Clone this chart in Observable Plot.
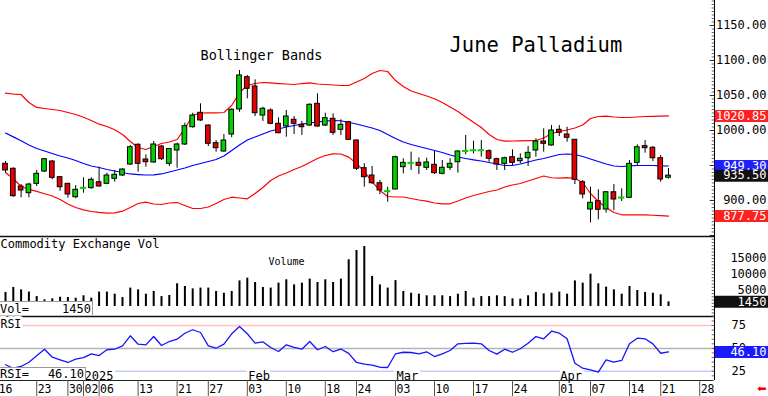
<!DOCTYPE html>
<html><head><meta charset="utf-8">
<script src="https://cdn.jsdelivr.net/npm/d3@7"></script>
<script src="https://cdn.jsdelivr.net/npm/@observablehq/plot@0.6"></script>
<style>
html,body{margin:0;padding:0;background:#fff;}
#chart{position:relative;width:768px;height:396px;overflow:hidden;font-family:"DejaVu Sans Mono",monospace;}
#chart svg{position:absolute;left:0;}
.box{position:absolute;left:0;background:#fff;border-top:1px solid #999;border-right:1px solid #999;font-size:12px;line-height:12px;color:#000;box-sizing:border-box;z-index:5;}
.box span{position:absolute;white-space:pre;}
</style></head><body>
<div id="chart"></div>
<script>
// ---- data ----
const dates = ("2024-12-17 2024-12-18 2024-12-19 2024-12-20 2024-12-23 2024-12-24 2024-12-26 2024-12-27 2024-12-30 2024-12-31 " +
 "2025-01-02 2025-01-03 2025-01-06 2025-01-07 2025-01-08 2025-01-09 2025-01-10 2025-01-13 2025-01-14 2025-01-15 2025-01-16 2025-01-17 " +
 "2025-01-21 2025-01-22 2025-01-23 2025-01-24 2025-01-27 2025-01-28 2025-01-29 2025-01-30 2025-01-31 " +
 "2025-02-03 2025-02-04 2025-02-05 2025-02-06 2025-02-07 2025-02-10 2025-02-11 2025-02-12 2025-02-13 2025-02-14 " +
 "2025-02-18 2025-02-19 2025-02-20 2025-02-21 2025-02-24 2025-02-25 2025-02-26 2025-02-27 2025-02-28 " +
 "2025-03-03 2025-03-04 2025-03-05 2025-03-06 2025-03-07 2025-03-10 2025-03-11 2025-03-12 2025-03-13 2025-03-14 " +
 "2025-03-17 2025-03-18 2025-03-19 2025-03-20 2025-03-21 2025-03-24 2025-03-25 2025-03-26 2025-03-27 2025-03-28 2025-03-31 " +
 "2025-04-01 2025-04-02 2025-04-03 2025-04-04 2025-04-07 2025-04-08 2025-04-09 2025-04-10 2025-04-11 " +
 "2025-04-14 2025-04-15 2025-04-16 2025-04-17 2025-04-21 2025-04-22").split(" ");

const open = [952.4, 945.3, 920.0, 910.4, 923.8, 941.4, 955.7, 933.3, 923.8, 904.7,
917.0, 917.6, 926.1, 923.8, 931.0, 935.7, 951.4, 979.6, 958.6, 954.3,
977.1, 952.4, 971.4, 980.0, 1004.7, 1025.3, 1007.1, 981.9, 970.0, 994.3,
1030.0, 1076.1, 1062.9, 1021.4, 1028.6, 1009.6, 1005.7, 1015.3, 1008.1, 1007.1,
1038.1, 1007.1, 1016.7, 1001.0, 1011.9, 985.7, 946.1, 935.7, 924.7, 912.3,
915.7, 947.6, 952.7, 953.8, 946.7, 951.0, 938.1, 946.7, 954.7, 969.8,
970.8, 970.8, 970.4, 959.0, 952.4, 961.9, 956.1, 960.4, 971.4, 984.3,
978.6, 1001.0, 994.3, 986.7, 926.1, 887.1, 899.0, 887.1, 911.8, 903.2,
903.8, 953.8, 977.6, 975.3, 960.4, 932.5];
const high = [955.7, 946.7, 922.8, 924.7, 942.9, 960.0, 957.1, 934.3, 924.7, 921.4,
932.4, 932.4, 947.6, 939.0, 942.9, 945.3, 978.6, 981.0, 965.3, 984.3,
978.6, 974.3, 981.9, 1010.4, 1024.7, 1038.1, 1008.1, 985.7, 994.3, 1031.0,
1085.7, 1078.6, 1072.4, 1033.3, 1031.0, 1018.1, 1028.6, 1020.0, 1012.9, 1038.1,
1052.4, 1024.7, 1023.8, 1015.3, 1012.9, 986.7, 952.4, 948.6, 928.6, 919.0,
963.3, 959.6, 969.0, 961.0, 960.4, 970.0, 957.1, 959.6, 971.4, 992.9,
984.7, 985.7, 972.4, 960.4, 961.9, 972.4, 966.7, 977.1, 988.1, 1002.4,
1007.1, 1007.1, 1004.7, 987.1, 928.6, 919.0, 915.3, 912.9, 922.8, 916.7,
957.1, 979.6, 985.7, 977.1, 964.3, 945.7];
const low = [939.0, 904.7, 903.8, 903.8, 920.0, 940.0, 929.6, 913.3, 903.3, 902.4,
910.4, 916.1, 919.0, 922.8, 926.1, 934.3, 950.0, 940.4, 947.6, 953.3,
957.1, 948.6, 946.1, 978.6, 1003.3, 1012.9, 977.1, 969.0, 969.0, 989.6,
1026.1, 1045.3, 1020.0, 1012.9, 1008.1, 995.3, 990.4, 994.3, 992.9, 1006.1,
1004.7, 1005.7, 992.9, 992.9, 985.7, 942.9, 919.0, 922.8, 908.6, 897.6,
915.3, 938.1, 942.9, 937.1, 942.9, 937.1, 936.7, 942.9, 939.0, 965.3,
966.7, 961.9, 954.7, 942.9, 942.9, 950.0, 952.4, 948.6, 961.9, 969.0,
977.6, 991.4, 983.3, 922.8, 902.4, 868.1, 872.4, 881.9, 885.7, 898.6,
903.0, 948.6, 967.6, 955.7, 926.1, 930.5];
const close = [942.9, 906.1, 914.3, 922.8, 938.1, 959.0, 932.4, 919.0, 908.6, 915.3,
917.6, 929.6, 920.0, 935.7, 936.7, 944.3, 976.1, 952.4, 954.7, 980.0,
959.0, 973.6, 980.0, 1006.1, 1021.4, 1014.3, 981.0, 974.7, 985.7, 1029.6,
1078.6, 1059.6, 1024.7, 1031.0, 1009.6, 996.1, 1020.0, 1009.6, 1004.7, 1036.7,
1005.7, 1017.6, 996.7, 1008.1, 986.7, 945.3, 933.3, 924.7, 914.3, 912.9,
961.9, 953.8, 953.3, 949.5, 954.3, 939.0, 946.7, 952.4, 970.0, 970.4,
971.4, 971.4, 959.6, 951.4, 960.4, 953.8, 959.6, 968.1, 984.3, 981.0,
1000.0, 996.7, 989.6, 929.6, 908.6, 896.7, 886.7, 911.8, 901.4, 903.8,
952.4, 976.1, 974.7, 960.4, 930.0, 935.5];

const bbUpper = [1053.3, 1052.1, 1051.4, 1040.0, 1032.9, 1031.4, 1030.0, 1028.6, 1025.7, 1022.9,
1019.0, 1014.3, 1009.0, 1005.7, 1001.0, 994.3, 984.3, 975.7, 972.9, 977.1,
981.4, 983.6, 987.1, 1002.9, 1021.4, 1025.0, 1025.3, 1025.3, 1025.7, 1035.7,
1054.3, 1064.3, 1067.1, 1068.6, 1067.9, 1067.1, 1066.4, 1065.7, 1067.1, 1068.1,
1066.4, 1065.7, 1065.0, 1064.3, 1064.3, 1069.3, 1074.3, 1081.4, 1085.7, 1084.3,
1071.4, 1062.9, 1056.4, 1052.9, 1049.3, 1045.3, 1040.0, 1033.6, 1027.1, 1019.3,
1011.9, 1004.3, 994.3, 987.1, 984.7, 985.0, 985.3, 985.4, 985.7, 989.3,
995.7, 998.6, 1000.7, 1003.6, 1007.9, 1017.1, 1020.0, 1020.4, 1019.3, 1018.6,
1018.6, 1019.3, 1020.0, 1020.3, 1020.6, 1020.85];
const bbMid = [996.4, 990.9, 985.3, 979.3, 974.3, 970.7, 967.1, 963.6, 960.7, 957.1,
952.9, 949.3, 947.1, 944.3, 942.1, 940.0, 937.9, 937.1, 936.4, 936.7,
937.9, 940.7, 943.6, 946.4, 950.0, 952.9, 955.7, 958.6, 963.6, 971.4,
979.3, 986.4, 990.7, 995.0, 999.3, 1002.1, 1005.0, 1007.1, 1009.3, 1010.7,
1012.1, 1013.3, 1014.3, 1013.9, 1011.4, 1009.3, 1006.4, 1003.6, 1000.0, 994.3,
988.6, 983.6, 980.0, 977.1, 974.3, 971.4, 968.6, 965.0, 962.1, 960.0,
958.1, 956.4, 954.3, 952.1, 950.0, 950.0, 952.1, 955.0, 957.9, 960.0,
962.9, 965.7, 966.4, 965.7, 962.9, 959.3, 955.7, 952.1, 949.3, 948.6,
949.6, 950.0, 950.0, 950.0, 949.6, 949.30];
const bbLower = [940.0, 931.0, 920.0, 916.0, 913.0, 909.6, 906.4, 901.4, 895.0, 890.0,
886.7, 884.3, 882.9, 881.9, 882.4, 884.7, 890.0, 895.7, 897.6, 895.0,
894.3, 896.4, 897.1, 892.9, 888.6, 888.6, 890.7, 895.7, 901.4, 904.7,
903.6, 902.4, 910.0, 918.6, 928.6, 935.0, 939.3, 944.3, 948.6, 954.3,
960.0, 964.3, 966.7, 966.4, 962.0, 952.9, 941.4, 927.1, 914.3, 905.7,
905.0, 905.0, 902.9, 900.7, 899.0, 896.4, 895.3, 895.3, 899.3, 903.6,
907.1, 910.0, 912.9, 915.0, 919.3, 922.1, 924.3, 927.9, 931.5, 935.0,
932.5, 932.0, 932.6, 931.4, 925.7, 910.0, 898.6, 890.0, 882.9, 879.6,
879.6, 879.6, 879.6, 878.9, 878.3, 877.75];

const volume = [4400, 5950, 5200, 4500, 3100, 2100, 2400, 2900, 2800, 2600,
3350, 2600, 4500, 4500, 3850, 2800, 5750, 5200, 3850, 4700,
3100, 3450, 7100, 6250, 5500, 5750, 5750, 4700, 4150, 4700,
8000, 8850, 7500, 5950, 5750, 7300, 8350, 6750, 7300, 8550,
7500, 8350, 7500, 8550, 14600, 17500, 18750, 9400, 6750, 5750,
8100, 4700, 4150, 3850, 3350, 3350, 3350, 3100, 3850, 4700,
2600, 3100, 3100, 3350, 3100, 2400, 2300, 3350, 4400, 3950,
4150, 4500, 3850, 8000, 7300, 10100, 7100, 6050, 5200, 3850,
6250, 5000, 4400, 4150, 3650, 1450];

const rsi = [32.1, 28.3, 30.2, 34.9, 41.9, 49.1, 40.4, 37.5, 34.6, 38.2,
40.0, 44.1, 42.2, 48.5, 49.1, 52.8, 63.8, 54.6, 53.9, 63.0,
53.2, 57.5, 60.1, 66.6, 70.4, 67.4, 52.8, 50.2, 54.6, 66.0,
74.0, 66.0, 55.7, 57.2, 51.0, 46.6, 53.9, 51.0, 49.1, 57.5,
48.5, 52.1, 46.4, 49.3, 44.6, 34.6, 32.7, 31.8, 29.4, 29.1,
44.1, 45.8, 45.5, 44.1, 46.3, 41.1, 44.1, 47.7, 55.0, 55.4,
55.7, 55.0, 47.7, 43.7, 49.1, 45.8, 49.6, 55.7, 63.0, 60.5,
68.8, 66.6, 60.5, 33.8, 28.3, 26.6, 24.0, 37.5, 34.9, 36.8,
55.0, 61.2, 60.5, 55.0, 44.7, 46.1];

// x-axis ticks: trading-day index (0 = Dec 17) and their labels
const xTickIndex = [-1, 4, 8, 10, 12, 17, 22, 26, 31, 36, 41, 45, 50, 55, 60, 65, 71, 75, 80, 84, 89];
const xTickLabels = ["16","23","30","02","06","13","21","27","03","10","18","24","03","10","17","24","01","07","14","21","28"];
const monthIndex = [10, 31, 50, 71];
const monthLabels = ["2025", "Feb", "Mar", "Apr"];
const priceTicks = [900, 1000, 1050, 1100, 1150];
const volTicks = [5000, 10000, 15000];
const rsiTicks = [25, 50, 75];
const titleText = "June Palladium";
const studyText = "Bollinger Bands";
const volPanelText = "Commodity Exchange Vol";
const volText = "Volume";

// ---- build ----
const days = dates.map((d, i) => ({i, date: d, o: open[i], h: high[i], l: low[i], c: close[i],
  up: bbUpper[i], mid: bbMid[i], lo: bbLower[i], v: volume[i], r: rsi[i]}));
const last = days[days.length - 1];

const W = 768, MR = 54, PX = 7.8, X0 = 5;
const xDomain = [-X0 / PX, (W - MR - X0) / PX];
const xR = xDomain[1];
const tagEnd = xR + MR / PX;
const FONT = "DejaVu Sans Mono";
const GREEN = "#00d200", RED = "#e60000", BLUE = "#0000ff";
const priceDomain = [848.57, 1185.71];
const volDomain = [-3125, 21875];
const rsiDomain = [14.88, 84.9];

const styleBase = {fontFamily: FONT, fontSize: "12px", overflow: "visible", background: "transparent", color: "#000"};
const common = {width: W, marginLeft: 0, marginRight: MR, marginTop: 0,
  x: {domain: xDomain, axis: null}};

function tag(val, color, txt) {
  return [
    Plot.ruleY([val], {y: d => d, x1: xR + 0.1, x2: tagEnd, stroke: color, strokeWidth: 12}),
    Plot.text([val], {y: d => d, text: () => txt, frameAnchor: "right", dx: 52, textAnchor: "end", fill: "#fff", fontSize: 12})
  ];
}

const price = Plot.plot({
  ...common, height: 236, marginBottom: 0,
  y: {domain: priceDomain, axis: null},
  style: styleBase,
  marks: [
    Plot.line(days, {x: "i", y: "up", stroke: "#ff0000", strokeWidth: 1.2}),
    Plot.line(days, {x: "i", y: "lo", stroke: "#ff0000", strokeWidth: 1.2}),
    Plot.line(days, {x: "i", y: "mid", stroke: BLUE, strokeWidth: 1.2}),
    Plot.ruleX(days, {x: "i", y1: "l", y2: "h", stroke: "#000", strokeWidth: 1}),
    Plot.rect(days, {x1: d => d.i - 0.3, x2: d => d.i + 0.3, y1: "o", y2: "c",
      fill: d => d.c >= d.o ? GREEN : RED,
      stroke: d => Math.abs(d.c - d.o) < 1 ? GREEN : "#000",
      strokeWidth: d => Math.abs(d.c - d.o) < 1 ? 1.6 : 1}),
    Plot.ruleX([xR], {stroke: "#000", strokeWidth: 1}),
    Plot.ruleY(d3.range(850, 1186, 5), {y: d => d, x1: xR - 0.3, x2: xR, stroke: "#666", strokeWidth: 1}),
    Plot.ruleY(d3.range(850, 1186, 50), {y: d => d, x1: xR - 0.55, x2: xR, stroke: "#333", strokeWidth: 1}),
    Plot.text(priceTicks, {y: d => d, text: d => d.toFixed(2), frameAnchor: "right", dx: 52, textAnchor: "end", fill: "#000"}),
    ...tag(last.up, "#ff2020", last.up.toFixed(2)),
    ...tag(last.mid, "#2020ff", last.mid.toFixed(2)),
    ...tag(last.lo, "#ff2020", last.lo.toFixed(2)),
    ...tag(last.c, "#111", last.c.toFixed(2)),
    Plot.text([studyText], {text: d => d, frameAnchor: "top-left", dx: 200, dy: 50, lineAnchor: "top", textAnchor: "start", fontSize: 13.5, fill: "#000"}),
    Plot.text([titleText], {text: d => d, frameAnchor: "top-left", dx: 449, dy: 37, lineAnchor: "top", textAnchor: "start", fontSize: 20.5, fill: "#000"})
  ]
});

const vol = Plot.plot({
  ...common, height: 80, marginBottom: 0,
  y: {domain: volDomain, axis: null},
  style: styleBase,
  marks: [
    Plot.ruleX(days, {x: "i", y1: 0, y2: "v", stroke: "#000", strokeWidth: 2}),
    Plot.ruleY([volDomain[1]], {y: d => d, stroke: "#111", strokeWidth: 1.6}),
    Plot.ruleY([volDomain[0]], {y: d => d, stroke: "#111", strokeWidth: 1.6}),
    Plot.ruleX([xR], {stroke: "#000", strokeWidth: 1}),
    Plot.ruleY(d3.range(-3000, 21876, 1000), {y: d => d, x1: xR - 0.3, x2: xR, stroke: "#666", strokeWidth: 1}),
    Plot.text(volTicks, {y: d => d, text: d => String(d), frameAnchor: "right", dx: 52, textAnchor: "end", fill: "#000"}),
    ...tag(last.v, "#111", String(last.v)),
    Plot.text([volPanelText], {text: d => d, frameAnchor: "top-left", dy: 3, lineAnchor: "top", textAnchor: "start", fontSize: 12, fill: "#000"}),
    Plot.text([volText], {text: d => d, frameAnchor: "top-left", dx: 268, dy: 21, lineAnchor: "top", textAnchor: "start", fontSize: 10, fill: "#000"})
  ]
});

const rsiPlot = Plot.plot({
  ...common, height: 80, marginBottom: 16,
  y: {domain: rsiDomain, axis: null},
  style: styleBase,
  marks: [
    Plot.ruleY([75], {y: d => d, stroke: "#ffc4c4", strokeWidth: 1.5}),
    Plot.ruleY([50], {y: d => d, stroke: "#b4b4b4", strokeWidth: 1.5}),
    Plot.ruleY([25], {y: d => d, stroke: "#c6cbff", strokeWidth: 1.5}),
    Plot.line(days, {x: "i", y: "r", stroke: "#1414ff", strokeWidth: 1.3}),
    Plot.text(monthIndex, {x: d => d, text: (d, i) => monthLabels[i], frameAnchor: "bottom", dy: -1, dx: 1,
      lineAnchor: "bottom", textAnchor: "start", stroke: "#fff", strokeWidth: 6, paintOrder: "stroke", fill: "#000", fontSize: 12}),
    Plot.text(["RSI"], {text: d => d, frameAnchor: "top-left", dy: 3, lineAnchor: "top", textAnchor: "start",
      stroke: "#fff", strokeWidth: 6, paintOrder: "stroke", fill: "#000", fontSize: 11.5}),
    Plot.ruleY([rsiDomain[0]], {y: d => d, stroke: "#222", strokeWidth: 1}),
    Plot.ruleX([xR], {stroke: "#000", strokeWidth: 1}),
    Plot.ruleY(d3.range(15, 85, 5), {y: d => d, x1: xR - 0.3, x2: xR, stroke: "#666", strokeWidth: 1}),
    Plot.text(rsiTicks, {y: d => d, text: d => String(d), frameAnchor: "right", dx: 17, textAnchor: "start", fill: "#000"}),
    ...tag(last.r, "#1a1aff", last.r.toFixed(2))
  ]
});

const xrow = Plot.plot({
  ...common, height: 16, marginBottom: 0,
  style: styleBase,
  marks: [
    Plot.ruleX(xTickIndex, {x: d => d, stroke: "#555", strokeWidth: 1}),
    Plot.text(xTickIndex, {x: d => d, text: (d, i) => xTickLabels[i], frameAnchor: "top", dy: 12.5, dx: 1,
      lineAnchor: "bottom", textAnchor: "start", fontSize: 11.5, fill: "#000"}),
    Plot.text(["\u2B05"], {text: d => d, frameAnchor: "right", dx: 52, textAnchor: "end", fill: "#ee0000",
      fontFamily: "DejaVu Sans", fontSize: 11})
  ]
});

const chart = document.getElementById("chart");
[[price, 0], [vol, 236], [rsiPlot, 316], [xrow, 380]].forEach(([el, top]) => {
  el.style.position = "absolute";
  el.style.top = top + "px";
  el.style.left = "0px";
  chart.appendChild(el);
});

function infoBox(top, width, height, label, value, textTop) {
  const b = document.createElement("div");
  b.className = "box";
  b.style.top = top + "px"; b.style.width = width + "px"; b.style.height = height + "px";
  const a = document.createElement("span"); a.textContent = label; a.style.left = "0px"; a.style.top = textTop + "px";
  const v = document.createElement("span"); v.textContent = value; v.style.right = "1px"; v.style.top = textTop + "px";
  b.appendChild(a); b.appendChild(v);
  chart.appendChild(b);
}
infoBox(301, 93, 14, "Vol=", String(last.v), 0.5);
infoBox(367, 86, 13, "RSI=", last.r.toFixed(2), -0.5);
</script></body></html>
